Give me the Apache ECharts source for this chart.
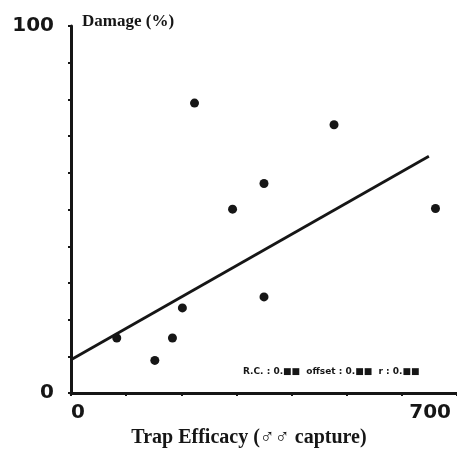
<!DOCTYPE html>
<html>
<head>
<meta charset="utf-8">
<script src="https://cdn.jsdelivr.net/npm/echarts@6/dist/echarts.min.js"></script>
<style>
  html, body { margin: 0; padding: 0; background: #fff; }
  #main { width: 457px; height: 453px; }
</style>
</head>
<body>
<div id="main"></div>
<script>
// trap efficacy (male capture) vs damage (%)
var efficacy = [83, 152, 184, 202, 224, 293, 350, 350, 477, 661];
var damage = [15.0, 8.9, 15.0, 23.2, 79.0, 50.1, 57.1, 26.2, 73.1, 50.3];
// fitted line at both ends
var fitX = [0, 649];
var fitY = [9.1, 64.5];
var xTicks = [0, 700];
var yTicks = [0, 100];
var statsText = 'R.C. : 0.■■  offset : 0.■■  r : 0.■■';

var points = efficacy.map(function (x, i) { return [x, damage[i]]; });
var fitLine = fitX.map(function (x, i) { return [x, fitY[i]]; });

var ink = '#161616';
var nameFont = "'Liberation Serif', serif";

var myChart = echarts.init(document.getElementById('main'));
var option = {
    animation: false,
    grid: { left: 71, top: 26, width: 388, height: 372 },
    xAxis: {
        type: 'value',
        min: 0,
        max: 700,
        interval: 100,
        name: 'Trap Efficacy (♂♂ capture)',
        nameLocation: 'middle',
        nameGap: 31,
        nameTextStyle: {
            color: ink, fontFamily: nameFont, fontWeight: 'bold', fontSize: 20,
            padding: [0, 30, 0, 0]
        },
        axisLine: { lineStyle: { color: ink, width: 3 } },
        axisTick: { length: 3, lineStyle: { color: ink, width: 2 } },
        splitLine: { show: false },
        axisLabel: {
            customValues: xTicks,
            margin: 10,
            color: ink,
            fontFamily: 'DejaVu Sans',
            fontWeight: 'bold',
            fontSize: 20,
            alignMinLabel: 'left',
            alignMaxLabel: 'right',
            padding: [0, 6, 0, 0]
        }
    },
    yAxis: {
        type: 'value',
        min: 0,
        max: 100,
        interval: 10,
        name: 'Damage (%)',
        nameLocation: 'end',
        nameGap: 4,
        nameTextStyle: {
            color: ink, fontFamily: nameFont, fontWeight: 'bold', fontSize: 17,
            align: 'left', verticalAlign: 'middle', padding: [0, 0, 0, 11]
        },
        axisLine: { show: true, lineStyle: { color: ink, width: 3 } },
        axisTick: { show: true, length: 3, lineStyle: { color: ink, width: 2 } },
        splitLine: { show: false },
        axisLabel: {
            customValues: yTicks,
            margin: 17,
            color: ink,
            fontFamily: 'DejaVu Sans',
            fontWeight: 'bold',
            fontSize: 20,
            padding: [0, 0, 12, 0]
        }
    },
    graphic: [{
        type: 'text',
        left: 243,
        top: 367,
        style: {
            text: statsText,
            fill: ink,
            font: 'bold 9px "DejaVu Sans"'
        }
    }],
    series: [{
        type: 'line',
        data: fitLine,
        symbol: 'none',
        lineStyle: { color: ink, width: 2.8 },
        z: 2
    }, {
        type: 'scatter',
        data: points,
        symbolSize: 9,
        itemStyle: { color: ink, opacity: 1 },
        z: 3
    }]
};
myChart.setOption(option);
</script>
</body>
</html>
